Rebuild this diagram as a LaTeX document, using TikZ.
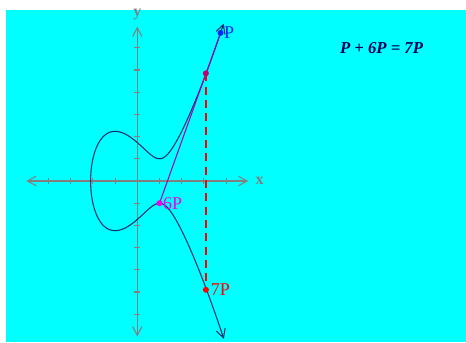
\documentclass[tikz,border=0pt]{standalone}
\usepackage{fontspec}
\setmainfont{Liberation Serif}
\usetikzlibrary{arrows.meta, positioning}
\definecolor{eccyan}{RGB}{0,255,255}
\definecolor{ecgray}{RGB}{128,128,128}
\definecolor{ecnavy}{RGB}{16,48,112}
\definecolor{ecpurple}{RGB}{170,0,190}
\definecolor{ecwine}{RGB}{190,0,110}
\definecolor{ecpink}{RGB}{240,0,240}
\definecolor{ecred}{RGB}{255,0,0}
\definecolor{ecblue}{RGB}{0,40,255}
\definecolor{eceq}{RGB}{0,0,90}

\begin{document}
\begin{tikzpicture}[x=16.65pt, y=16.65pt,
    declare function={ecx(\t)=-2.1038+\t*\t; ecf(\u)=\u*\u*\u-3*\u+3;},
    dot/.style={circle, fill, inner sep=0pt, minimum size=4.5pt},
    ptlabel/.style={font=\fontsize{13.5}{14}\selectfont, inner sep=0pt},
    axislbl/.style={font=\fontsize{12}{12}\selectfont\bfseries, ecgray}]
    \useasboundingbox (-6.185,-7.297) rectangle (14.806,8.153);
    \fill[eccyan] (-5.914,-7.252) rectangle (14.806,7.703);
    % axes with tick marks
    \draw[ecgray, line width=0.8pt, {Straight Barb[length=6.5pt,width=7pt]}-{Straight Barb[length=6.5pt,width=7pt]}] (-5,0) -- (5,0);
    \draw[ecgray, line width=0.8pt, {Straight Barb[length=6.5pt,width=7pt]}-{Straight Barb[length=6.5pt,width=7pt]}] (0,-7) -- (0,6.95);
    \foreach \x in {-4,...,4} {
      \draw[ecgray, line width=0.8pt] (\x,-0.14) -- (\x,0.14);
    }
    \foreach \y in {-6,...,6} {
      \draw[ecgray, line width=0.8pt] (-0.14,\y) -- (0.14,\y);
    }
    \node[axislbl, right=2pt] (xlbl) at (5,0) {x};
    \node[axislbl] (ylbl) at (0,7.5) {y};
    % the curve y^2 = x^3 - 3x + 3
    \draw[ecnavy, line width=0.8pt, {Straight Barb[length=6.5pt,width=7pt]}-{Straight Barb[length=6.5pt,width=7pt]}]
      plot[domain=-2.45:2.45, samples=160, variable=\t] ({ecx(\t)}, {sign(\t)*sqrt(abs(ecf(ecx(\t))))});
    % points
    \coordinate (P) at (3.75,6.67);
    \coordinate (6P) at (1,-1);
    \coordinate (R) at (3.09,4.85);
    \coordinate (7P) at (3.09,-4.9);
    \draw[ecpurple, line width=0.8pt] (6P) -- (P);
    \draw[ecred, line width=1pt, dash pattern=on 6pt off 4pt] (R) -- (7P);
    \node[dot, ecblue, label={[ptlabel, ecblue]right:P}] (Pdot) at (P) {};
    \node[dot, ecpink, label={[ptlabel, ecpink]right:6P}] (sixdot) at (6P) {};
    \node[dot, ecwine] (Rdot) at (R) {};
    \node[dot, ecred, label={[ptlabel, ecred, xshift=1pt]right:7P}] (sevendot) at (7P) {};
    \node[font=\fontsize{12.5}{13}\selectfont\bfseries\itshape, eceq] (eq) at (11,6) {P + 6P = 7P};
\end{tikzpicture}
\end{document}
